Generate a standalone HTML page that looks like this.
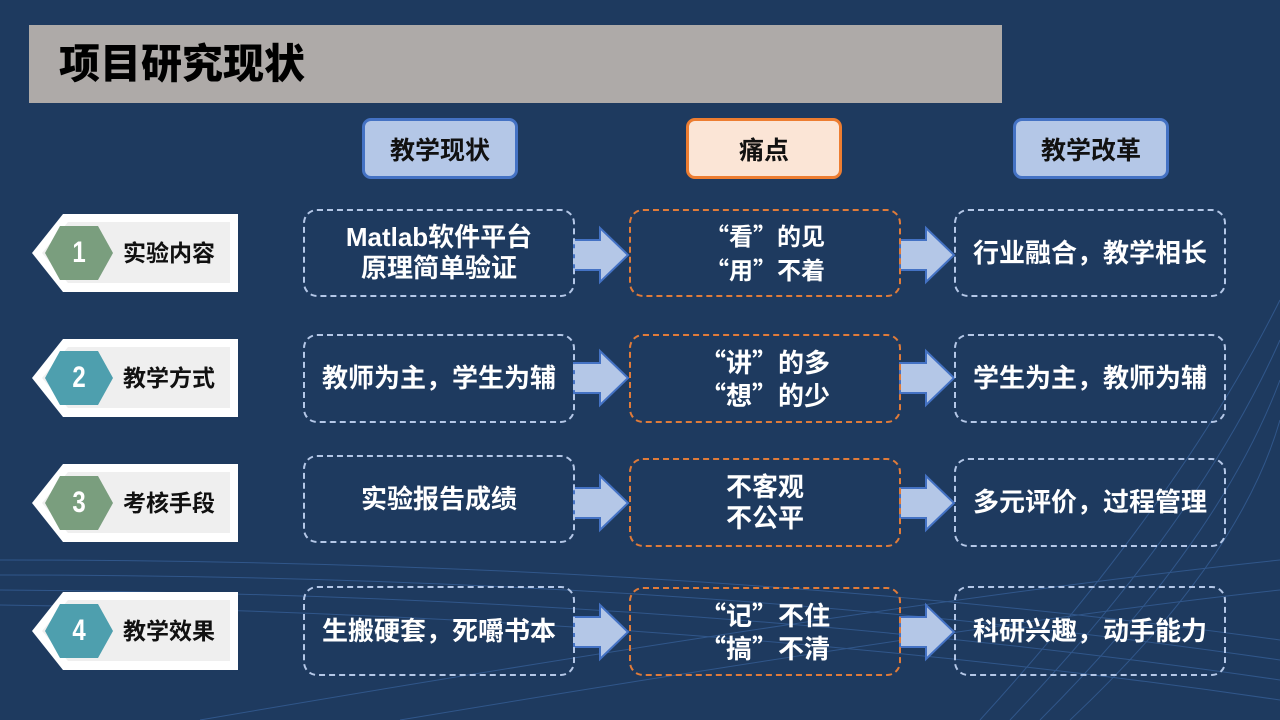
<!DOCTYPE html>
<html><head><meta charset="utf-8"><style>
*{margin:0;padding:0;box-sizing:border-box}
body{width:1280px;height:720px;background:#1e3a5f;position:relative;overflow:hidden;font-family:"Liberation Sans","Noto Sans CJK SC",sans-serif;font-weight:bold}
.a{position:absolute}
.q{font-family:"Noto Sans CJK SC",sans-serif}
.title{left:29px;top:25px;width:973px;height:78px;background:#aeaaa8;color:#000;font-size:41px;line-height:78px;padding-left:30px;font-weight:900}
.hd{height:61px;border-radius:9px;border:3px solid;font-size:25px;color:#111;display:flex;align-items:center;justify-content:center;top:118px;width:156px}
.bx{border:2px dashed #b4c7e7;border-radius:14px;color:#fff;font-size:26px;display:flex;align-items:center;justify-content:center;text-align:center;line-height:31px;width:272px;white-space:nowrap}
.or{border-color:#e07b39}
.lb{font-size:23px;color:#111;left:123px;line-height:30px}
.num{font-size:30px;color:#fff;width:40px;text-align:center;left:59px;line-height:34px;transform:scaleX(0.8)}
</style></head><body>
<svg class="a" style="left:0;top:0" width="1280" height="720">
<g fill="none" stroke="#3d6aa8" stroke-width="1" opacity="0.6">
<path d="M0 560 Q700 560 1280 640"/><path d="M0 575 Q700 575 1280 660"/><path d="M0 590 Q700 595 1280 680"/><path d="M0 605 Q700 615 1280 700"/>
<path d="M200 720 Q900 600 1280 560"/><path d="M400 720 Q1000 620 1280 590"/>
<path d="M980 720 Q1180 500 1280 300"/><path d="M1010 720 Q1200 520 1280 340"/><path d="M1040 720 Q1220 540 1280 380"/><path d="M1070 720 Q1240 560 1280 420"/>
</g>
</svg>
<div class="a title">项目研究现状</div>
<div class="a hd" style="left:362px;background:#b4c7e7;border-color:#4472c4">教学现状</div>
<div class="a hd" style="left:686px;background:#fbe5d6;border-color:#ed7d31">痛点</div>
<div class="a hd" style="left:1013px;background:#b4c7e7;border-color:#4472c4">教学改革</div>

<svg class="a" style="left:0;top:0" width="1280" height="720">
<defs>
<g id="lab"><polygon points="32,39 63,0 238,0 238,78 63,78" fill="#fff"/><polygon points="42,39 68,8 230,8 230,69 68,69" fill="#efefef"/></g>
<polygon id="hex" points="45,39 60,12 98,12 113,39 98,66 60,66"/>
<g id="ar"><polygon points="574,-15 600,-15 600,-27 628,0 600,27 600,15 574,15" fill="#b4c7e7" stroke="#4472c4" stroke-width="2"/></g>
</defs>
<g transform="translate(0,214)"><use href="#lab"/><use href="#hex" fill="#7a9e7e"/></g>
<g transform="translate(0,339)"><use href="#lab"/><use href="#hex" fill="#4e9fae"/></g>
<g transform="translate(0,464)"><use href="#lab"/><use href="#hex" fill="#7a9e7e"/></g>
<g transform="translate(0,592)"><use href="#lab"/><use href="#hex" fill="#4e9fae"/></g>
<g transform="translate(0,255)"><use href="#ar"/><use href="#ar" x="326"/></g>
<g transform="translate(0,378)"><use href="#ar"/><use href="#ar" x="326"/></g>
<g transform="translate(0,503)"><use href="#ar"/><use href="#ar" x="326"/></g>
<g transform="translate(0,632)"><use href="#ar"/><use href="#ar" x="326"/></g>
</svg>

<div class="a num" style="top:236px">1</div><div class="a lb" style="top:238px">实验内容</div>
<div class="a num" style="top:361px">2</div><div class="a lb" style="top:363px">教学方式</div>
<div class="a num" style="top:486px">3</div><div class="a lb" style="top:488px">考核手段</div>
<div class="a num" style="top:614px">4</div><div class="a lb" style="top:616px">教学效果</div>

<div class="a bx" style="left:303px;top:209px;height:88px">Matlab软件平台<br>原理简单验证</div>
<div class="a bx or" style="left:629px;top:209px;height:88px;font-size:24px"><span><span class="q">“</span>看<span class="q">”</span>的见<br><span class="q">“</span>用<span class="q">”</span>不着</span></div>
<div class="a bx" style="left:954px;top:209px;height:88px">行业融合，教学相长</div>

<div class="a bx" style="left:303px;top:334px;height:89px">教师为主，学生为辅</div>
<div class="a bx or" style="left:629px;top:334px;height:89px"><span><span class="q">“</span>讲<span class="q">”</span>的多<br><span class="q">“</span>想<span class="q">”</span>的少</span></div>
<div class="a bx" style="left:954px;top:334px;height:89px">学生为主，教师为辅</div>

<div class="a bx" style="left:303px;top:455px;height:88px;align-items:flex-start;padding-top:27px">实验报告成绩</div>
<div class="a bx or" style="left:629px;top:458px;height:89px">不客观<br>不公平</div>
<div class="a bx" style="left:954px;top:458px;height:89px">多元评价，过程管理</div>

<div class="a bx" style="left:303px;top:586px;height:90px">生搬硬套，死嚼书本</div>
<div class="a bx or" style="left:629px;top:587px;height:89px"><span><span class="q">“</span>记<span class="q">”</span>不住<br><span class="q">“</span>搞<span class="q">”</span>不清</span></div>
<div class="a bx" style="left:954px;top:586px;height:90px">科研兴趣，动手能力</div>
</body></html>
